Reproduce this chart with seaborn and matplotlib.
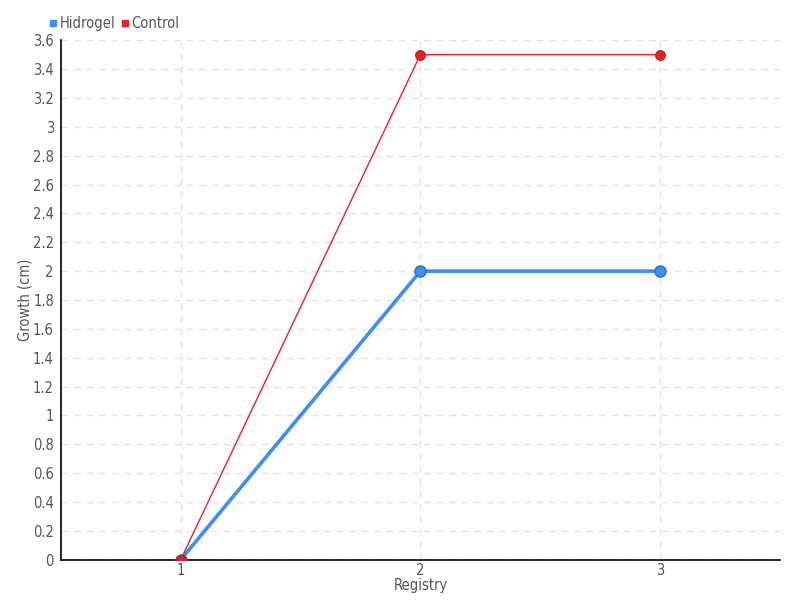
import pandas as pd
import seaborn as sns
import matplotlib.pyplot as plt
from matplotlib.lines import Line2D

registry = [1, 2, 3]
hidrogel = [0, 2.0, 2.0]
control = [0, 3.5, 3.5]
yticks = [0, 0.2, 0.4, 0.6, 0.8, 1, 1.2, 1.4, 1.6, 1.8, 2, 2.2, 2.4, 2.6, 2.8, 3, 3.2, 3.4, 3.6]
ytick_labels = ['0', '0.2', '0.4', '0.6', '0.8', '1', '1.2', '1.4', '1.6', '1.8', '2',
                '2.2', '2.4', '2.6', '2.8', '3', '3.2', '3.4', '3.6']

df = pd.DataFrame({
    'Registry': registry * 2,
    'Growth': hidrogel + control,
    'Series': ['Hidrogel'] * 3 + ['Control'] * 3,
})

sns.set_style('white')
plt.rcParams['font.family'] = ['DejaVu Sans']
plt.rcParams['font.stretch'] = 'condensed'
text_color = '#555555'

fig, ax = plt.subplots(figsize=(8, 6), dpi=100)
fig.subplots_adjust(left=0.076, right=0.975, top=0.933, bottom=0.067)

blue = '#3d8ff0'
red = '#e8202a'

h = df[df['Series'] == 'Hidrogel']
c = df[df['Series'] == 'Control']
sns.lineplot(data=h, x='Registry', y='Growth', ax=ax, color=blue, linewidth=2.6,
             marker='o', markersize=8, markeredgecolor='#2a6fc4', markeredgewidth=1, zorder=3)
sns.lineplot(data=c, x='Registry', y='Growth', ax=ax, color=red, linewidth=1,
             marker='o', markersize=7, markeredgecolor='#b81820', markeredgewidth=0.8, zorder=4)

ax.set_xlim(0.5, 3.5)
ax.set_ylim(0, 3.6)
ax.set_xticks(registry)
ax.set_xticklabels(['1', '2', '3'])
ax.set_yticks(yticks)
ax.set_yticklabels(ytick_labels)
ax.grid(True, color='#e3e3e3', linestyle=(0, (5, 4)), linewidth=1)
ax.set_axisbelow(True)

for s in ['top', 'right']:
    ax.spines[s].set_visible(False)
for s in ['left', 'bottom']:
    ax.spines[s].set_color('black')
    ax.spines[s].set_linewidth(1.2)

ax.tick_params(axis='y', direction='inout', length=6, width=1, colors='black',
               labelcolor=text_color, labelsize=10.5, pad=2)
ax.tick_params(axis='x', direction='inout', length=12, width=1, colors='#555555',
               labelcolor=text_color, labelsize=10.5, pad=-4)
ax.set_xlabel('Registry', color=text_color, fontsize=10.5, labelpad=0)
ax.set_ylabel('Growth (cm)', color=text_color, fontsize=10.5, labelpad=0)

handles = [Line2D([], [], marker='s', linestyle='', color=blue, markersize=4.5),
           Line2D([], [], marker='s', linestyle='', color=red, markersize=4.5)]
leg = fig.legend(handles, ['Hidrogel', 'Control'], loc='upper left', bbox_to_anchor=(0.045, 0.995),
                 ncol=2, frameon=False, fontsize=10.5, handlelength=0.5, handletextpad=0.2,
                 columnspacing=0.4, labelcolor=text_color)

fig.savefig('out.png', dpi=100)
